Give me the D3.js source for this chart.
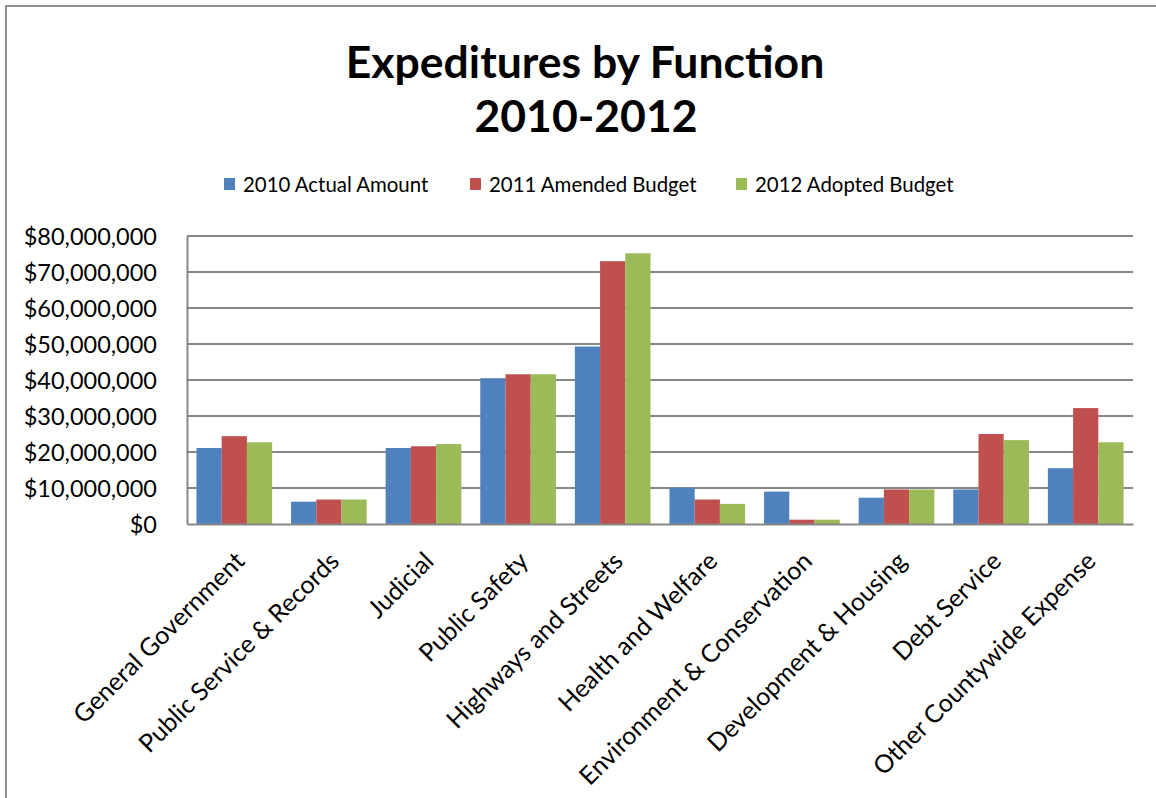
<!DOCTYPE html>
<html>
<head>
<meta charset="utf-8">
<script src="https://cdn.jsdelivr.net/npm/d3@7"></script>
<style>
  html, body { margin: 0; padding: 0; background: #ffffff; }
  svg { display: block; }
</style>
</head>
<body>
<svg id="chart" width="1156" height="798"></svg>
<script>
// Expenditure categories (x axis)
const categories = [
  "General Government",
  "Public Service & Records",
  "Judicial",
  "Public Safety",
  "Highways and Streets",
  "Health and Welfare",
  "Environment & Conservation",
  "Development & Housing",
  "Debt Service",
  "Other Countywide Expense"
];

// Series names
const seriesNames = ["2010 Actual Amount", "2011 Amended Budget", "2012 Adopted Budget"];

// Amounts in dollars, one array per series
const actual2010 = [21100000, 6200000, 21100000, 40500000, 49300000, 10100000, 9000000, 7300000, 9600000, 15500000];
const amended2011 = [24400000, 6800000, 21600000, 41600000, 73000000, 6800000, 1200000, 9600000, 25000000, 32200000];
const adopted2012 = [22700000, 6800000, 22200000, 41600000, 75200000, 5600000, 1200000, 9600000, 23300000, 22700000];

// Y axis ticks
const yTicks = [0, 10000000, 20000000, 30000000, 40000000, 50000000, 60000000, 70000000, 80000000];

const seriesValues = [actual2010, amended2011, adopted2012];
const colors = ["#4F81BD", "#C0504D", "#9BBB59"];

const svg = d3.select("#chart");
const FONT = "Lato, 'Open Sans', sans-serif";

// Outer frame
svg.append("rect")
  .attr("x", 6).attr("y", 6)
  .attr("width", 1160).attr("height", 810)
  .attr("fill", "#fff")
  .attr("stroke", "#8e8e8e").attr("stroke-width", 2);

// Title
const title = svg.append("text")
  .attr("text-anchor", "middle")
  .attr("font-family", FONT)
  .attr("font-weight", "bold")
  .attr("font-size", 44.5)
  .attr("fill", "#000");
title.append("tspan").attr("x", 585).attr("y", 78).text("Expeditures by Function");
title.append("tspan").attr("x", 586).attr("y", 132).text("2010-2012");

// Plot area
const plot = { left: 187, right: 1133, top: 236, bottom: 524 };

const x0 = d3.scaleBand()
  .domain(categories)
  .range([plot.left, plot.right])
  .paddingInner(0.2)
  .paddingOuter(0.1);

const x1 = d3.scaleBand()
  .domain(d3.range(seriesNames.length))
  .range([0, x0.bandwidth()])
  .padding(0);

const y = d3.scaleLinear()
  .domain([0, 80000000])
  .range([plot.bottom, plot.top]);

const fmt = v => "$" + d3.format(",")(v);

// Gridlines
svg.append("g")
  .selectAll("line")
  .data(yTicks.filter(t => t > 0))
  .join("line")
  .attr("x1", plot.left).attr("x2", plot.right)
  .attr("y1", d => y(d)).attr("y2", d => y(d))
  .attr("stroke", "#878787").attr("stroke-width", 2);

// Y axis
const yAxis = svg.append("g")
  .attr("transform", `translate(${plot.left},0)`)
  .call(d3.axisLeft(y).tickValues(yTicks).tickFormat(fmt).tickSize(0).tickPadding(30));
yAxis.select(".domain").attr("stroke", "#878787").attr("stroke-width", 2);
yAxis.selectAll("text")
  .attr("font-family", FONT)
  .attr("font-size", 23.5)
  .attr("fill", "#000")
  .attr("dy", "0.36em");

// Bars
const groups = svg.append("g")
  .selectAll("g")
  .data(categories)
  .join("g")
  .attr("transform", d => `translate(${x0(d)},0)`);

groups.selectAll("rect")
  .data((d, i) => seriesValues.map((vals, s) => ({ s, v: vals[i] })))
  .join("rect")
  .attr("x", d => x1(d.s))
  .attr("width", x1.bandwidth())
  .attr("y", d => y(d.v))
  .attr("height", d => y(0) - y(d.v))
  .attr("fill", d => colors[d.s]);

// X axis (baseline)
const xAxis = svg.append("g")
  .attr("transform", `translate(0,${plot.bottom})`)
  .call(d3.axisBottom(x0).tickSize(0).tickFormat(""));
xAxis.select(".domain").attr("stroke", "#878787").attr("stroke-width", 2);

// Rotated category labels
svg.append("g")
  .selectAll("text")
  .data(categories)
  .join("text")
  .attr("transform", d => `translate(${x0(d) + x0.bandwidth() / 2 - 1},550) rotate(-45)`)
  .attr("text-anchor", "end")
  .attr("dy", "0.72em")
  .attr("font-family", FONT)
  .attr("font-size", 25)
  .attr("fill", "#000")
  .text(d => d);

// Legend
const legendX = [224, 470, 736];
const legend = svg.append("g")
  .selectAll("g")
  .data(seriesNames)
  .join("g")
  .attr("transform", (d, i) => `translate(${legendX[i]},178)`);
legend.append("rect")
  .attr("width", 11).attr("height", 12)
  .attr("fill", (d, i) => colors[i]);
legend.append("text")
  .attr("x", 19).attr("y", 13.5)
  .attr("font-family", FONT)
  .attr("font-size", 20.4)
  .attr("fill", "#000")
  .text(d => d);
</script>
</body>
</html>
